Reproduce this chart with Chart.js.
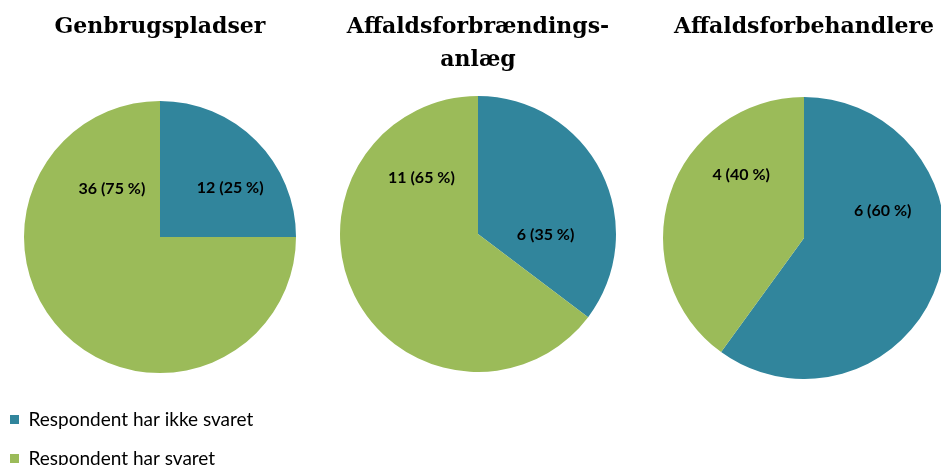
<!DOCTYPE html>
<html>
<head>
<meta charset="utf-8">
<title>Respondenter</title>
<script src="https://cdn.jsdelivr.net/npm/chart.js@4.4.1/dist/chart.umd.min.js"></script>
<style>
  html, body { margin: 0; padding: 0; background: #fff; }
  body { width: 941px; height: 465px; overflow: hidden; position: relative; }
  canvas { position: absolute; }
</style>
</head>
<body>
<canvas id="chartGenbrug" width="340" height="478" style="left:-10px; top:0"></canvas>
<canvas id="chartForbraending" width="320" height="372" style="left:318px; top:0"></canvas>
<canvas id="chartForbehandler" width="320" height="379" style="left:644px; top:0"></canvas>
<script>
// categories (same for all three pies)
const categories = ['Respondent har ikke svaret', 'Respondent har svaret'];

// series values
const genbrugValues = [12, 36];
const forbraendingValues = [6, 11];
const forbehandlerValues = [6, 4];

// titles
const genbrugTitle = 'Genbrugspladser';
const forbraendingTitle = ['Affaldsforbrændings-', 'anlæg'];
const forbehandlerTitle = 'Affaldsforbehandlere';

const colors = ['#31859C', '#9BBB59'];
const titleFont = { family: '"DejaVu Serif"', size: 22, weight: 'bold', lineHeight: 1.5 };
const labelFont = 'bold 16px Lato, "Open Sans", sans-serif';

// where Excel put each label: angle from 12 o'clock (deg) and distance (fraction of radius)
const labelSpots = {
    chartGenbrug: [{ a: 55, d: 0.63 }, { a: 315, d: 0.50 }],
    chartForbraending: [{ a: 91, d: 0.49 }, { a: 315, d: 0.58 }],
    chartForbehandler: [{ a: 71, d: 0.59 }, { a: 315, d: 0.63 }]
};

const valueLabels = {
    id: 'valueLabels',
    afterDatasetsDraw(chart) {
        const ctx = chart.ctx;
        const values = chart.data.datasets[0].data;
        const total = values.reduce((s, v) => s + v, 0);
        const spots = labelSpots[chart.canvas.id];
        ctx.save();
        ctx.font = labelFont;
        ctx.fillStyle = '#000';
        ctx.textAlign = 'center';
        ctx.textBaseline = 'middle';
        chart.getDatasetMeta(0).data.forEach((arc, i) => {
            const ang = spots[i].a * Math.PI / 180;
            const dist = spots[i].d * arc.outerRadius;
            const x = arc.x + Math.sin(ang) * dist;
            const y = arc.y - Math.cos(ang) * dist;
            const pct = Math.round(values[i] / total * 100);
            ctx.fillText(values[i] + ' (' + pct + ' %)', x, y);
        });
        ctx.restore();
    }
};

const makePie = (canvasId, values, title, titlePadding, radius, showLegend) => {
    const element = document.getElementById(canvasId);
    return new Chart(element.getContext('2d'), {
        type: 'pie',
        data: {
            labels: categories,
            datasets: [{
                data: values,
                backgroundColor: colors,
                borderWidth: 0,
                radius: radius
            }]
        },
        options: {
            responsive: false,
            animation: false,
            layout: { padding: 0 },
            plugins: {
                title: {
                    display: true,
                    text: title,
                    color: '#000',
                    font: titleFont,
                    padding: titlePadding
                },
                legend: {
                    display: showLegend,
                    position: 'bottom',
                    align: 'start',
                    labels: {
                        color: '#000',
                        boxWidth: 9,
                        boxHeight: 9,
                        padding: 20,
                        font: { family: 'Lato, "Open Sans", sans-serif', size: 19 }
                    }
                },
                tooltip: { enabled: false }
            }
        },
        plugins: [valueLabels]
    });
};

makePie('chartGenbrug', genbrugValues, genbrugTitle, { top: 11, bottom: 40 }, 136, true);
makePie('chartForbraending', forbraendingValues, forbraendingTitle, { top: 11, bottom: 19 }, 138, false);
makePie('chartForbehandler', forbehandlerValues, forbehandlerTitle, { top: 11, bottom: 53 }, 141, false);
</script>
</body>
</html>
